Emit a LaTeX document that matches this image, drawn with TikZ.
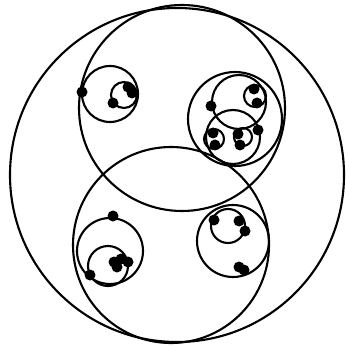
\documentclass[tikz,border=0pt]{standalone}
\usepackage{tikz}
\usetikzlibrary{positioning}

\begin{document}
\begin{tikzpicture}[x=0.03cm, y=-0.03cm,
    ring/.style={circle, draw, line width=1.8pt, inner sep=0pt, minimum size=#1*0.06cm},
    dot/.style={circle, fill, inner sep=0pt, minimum size=0.33cm}]
    \useasboundingbox (0,0) rectangle (345,347);
    % big circles
    \node[ring=167] (outer) at (177,175) {};
    \node[ring=103] (up) at (182,108) {};
    \node[ring=98] (low) at (171,245) {};
    % top left cluster
    \node[ring=28] (tl) at (110,94) {};
    \node[ring=13] (tlin) at (124,95) {};
    \node[dot] (tla) at (82,92) {};
    \node[dot] (tlb) at (113,103) {};
    \node[dot] (tlc) at (128,87) {};
    \node[dot] (tld) at (132,93) {};
    % top right cluster
    \node[ring=47] (tr) at (235,119) {};
    \node[ring=27] (tru) at (239,102) {};
    \node[ring=11] (truin) at (255,96) {};
    \node[ring=27] (trl) at (233,137) {};
    \node[ring=10] (trla) at (214,139) {};
    \node[ring=9] (trlb) at (243,137) {};
    \node[dot] (tra) at (211,106) {};
    \node[dot] (trb) at (254,89) {};
    \node[dot] (trc) at (257,103) {};
    \node[dot] (trd) at (213,133) {};
    \node[dot] (tre) at (215,145) {};
    \node[dot] (trf) at (238,134) {};
    \node[dot] (trg) at (240,145) {};
    \node[dot] (trh) at (258,130) {};
    % bottom left cluster
    \node[ring=33] (bl) at (110,251) {};
    \node[ring=20] (blin) at (108,266) {};
    \node[dot] (bla) at (113,216) {};
    \node[dot] (blb) at (90,275) {};
    \node[dot] (blc) at (114,262) {};
    \node[dot] (bld) at (121,259) {};
    \node[dot] (ble) at (128,262) {};
    \node[dot] (blf) at (117,267) {};
    % bottom right cluster
    \node[ring=36] (br) at (233,241) {};
    \node[ring=17] (brin) at (228,226) {};
    \node[dot] (bra) at (214,220) {};
    \node[dot] (brb) at (239,221) {};
    \node[dot] (brc) at (245,231) {};
    \node[dot] (brd) at (239,267) {};
    \node[dot] (bre) at (244,270) {};
\end{tikzpicture}
\end{document}
